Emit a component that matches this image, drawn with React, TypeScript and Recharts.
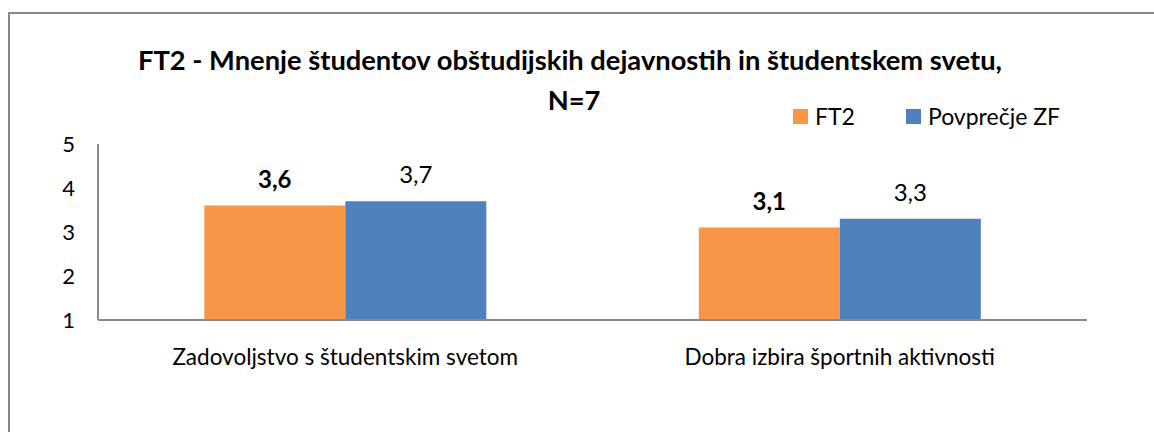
import React from 'react';
import { BarChart, Bar, XAxis, YAxis, LabelList } from 'recharts';

const categories = ['Zadovoljstvo s študentskim svetom', 'Dobra izbira športnih aktivnosti'];
const ft2Values = [3.6, 3.1];
const zfValues = [3.7, 3.3];
const yTicks = [1, 2, 3, 4, 5];
const seriesNames = ['FT2', 'Povprečje ZF'];
const titleLines = ['FT2 - Mnenje študentov obštudijskih dejavnostih in študentskem svetu,', 'N=7'];

const ORANGE = '#F79646';
const BLUE = '#4F81BD';
const AXIS = '#8a8a8a';
const FONT = 'Lato, sans-serif';

const data = categories.map((c, i) => ({ name: c, ft2: ft2Values[i], zf: zfValues[i] }));

const fmt = (v: any) => Number(v).toFixed(1).replace('.', ',');

const XTick = (props: any) => {
  const { x, y, payload } = props;
  return (
    <text x={x} y={y + 45} textAnchor="middle" fontSize={22.5} fontFamily={FONT} fill="#000">
      {payload.value}
    </text>
  );
};

const YTick = (props: any) => {
  const { x, y, payload } = props;
  return (
    <text x={x} y={y} dy="0.36em" textAnchor="end" fontSize={22} fontFamily={FONT} fill="#000">
      {payload.value}
    </text>
  );
};

const LegendBox = () => {
  const colors = [ORANGE, BLUE];
  return (
    <div
      style={{
        position: 'absolute',
        top: 102,
        left: 793,
        display: 'flex',
        alignItems: 'center',
        fontFamily: FONT,
        fontSize: 23,
        color: '#000',
        whiteSpace: 'nowrap',
      }}
    >
      {seriesNames.map((n, i) => (
        <div key={n} style={{ display: 'flex', alignItems: 'center', marginRight: i === 0 ? 51 : 0 }}>
          <div style={{ width: 15, height: 15, background: colors[i], marginRight: 7 }} />
          <span>{n}</span>
        </div>
      ))}
    </div>
  );
};

export default function App() {
  return (
    <div
      style={{
        position: 'fixed',
        left: 0,
        top: 0,
        width: 1154,
        height: 432,
        overflow: 'hidden',
        background: '#fff',
      }}
    >
      <style>{'html,body{overflow:hidden;}'}</style>
      <div
        style={{
          position: 'absolute',
          left: 8,
          top: 12,
          width: 1200,
          height: 500,
          borderTop: '2px solid #878787',
          borderLeft: '2px solid #878787',
          boxSizing: 'border-box',
        }}
      />
      <div
        style={{
          position: 'absolute',
          left: 0,
          top: 0,
          width: 1140,
          textAlign: 'center',
          fontFamily: FONT,
          fontWeight: 'bold',
          fontSize: 27.3,
          color: '#000',
          whiteSpace: 'nowrap',
        }}
      >
        <div style={{ position: 'absolute', left: 0, width: 1140, top: 44, lineHeight: '32px' }}>{titleLines[0]}</div>
        <div style={{ position: 'absolute', left: 0, width: 1148, top: 84, lineHeight: '32px' }}>{titleLines[1]}</div>
      </div>
      <LegendBox />
      <div style={{ position: 'absolute', left: 0, top: 0 }}>
        <BarChart
          width={1154}
          height={432}
          data={data}
          margin={{ top: 144, right: 67, left: 0, bottom: 52 }}
          barCategoryGap="21.5%"
          barGap={0}
        >
          <XAxis
            dataKey="name"
            height={60}
            tickLine={false}
            tickSize={0}
            tickMargin={0}
            axisLine={{ stroke: AXIS, strokeWidth: 2 }}
            tick={<XTick />}
            interval={0}
          />
          <YAxis
            width={98}
            domain={[1, 5]}
            ticks={yTicks}
            tickLine={false}
            tickSize={0}
            tickMargin={23}
            axisLine={{ stroke: AXIS, strokeWidth: 2 }}
            tick={<YTick />}
            allowDataOverflow
          />
          <Bar dataKey="ft2" name={seriesNames[0]} fill={ORANGE} isAnimationActive={false}>
            <LabelList
              dataKey="ft2"
              position="top"
              offset={18}
              formatter={fmt}
              style={{ fontFamily: FONT, fontSize: 24, fontWeight: 'bold', fill: '#000' }}
            />
          </Bar>
          <Bar dataKey="zf" name={seriesNames[1]} fill={BLUE} isAnimationActive={false}>
            <LabelList
              dataKey="zf"
              position="top"
              offset={18}
              formatter={fmt}
              style={{ fontFamily: FONT, fontSize: 24, fill: '#000' }}
            />
          </Bar>
        </BarChart>
      </div>
    </div>
  );
}
